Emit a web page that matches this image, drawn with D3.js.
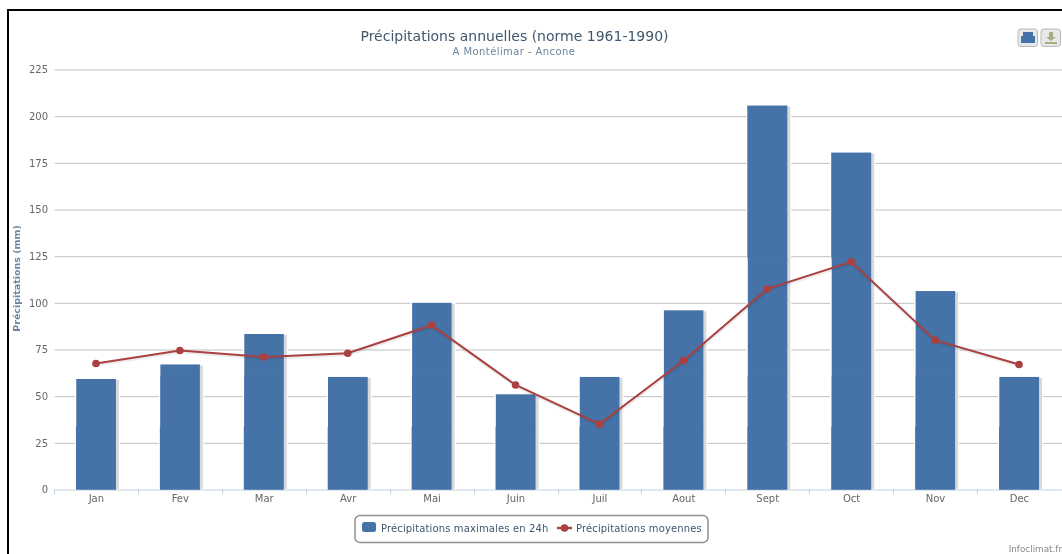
<!DOCTYPE html>
<html>
<head>
<meta charset="utf-8">
<script src="https://cdn.jsdelivr.net/npm/d3@7"></script>
<style>
  html, body { margin: 0; padding: 0; background: #fff; overflow: hidden; }
  svg { display: block; font-family: "DejaVu Sans", sans-serif; filter: blur(0.4px); }
</style>
</head>
<body>
<svg id="chart"></svg>
<script>
const MONTHS = ["Jan", "Fev", "Mar", "Avr", "Mai", "Juin", "Juil", "Aout", "Sept", "Oct", "Nov", "Dec"];
const MAX_24H = [59.2, 67, 83.3, 60.3, 100, 51, 60.3, 96, 205.7, 180.5, 106.3, 60.3];
const MEAN_PRECIP = [67.5, 74.5, 71, 73, 88, 56, 35, 69, 107.5, 122, 80, 67];
const Y_TICKS = [0, 25, 50, 75, 100, 125, 150, 175, 200, 225];
// the source screenshot was stitched: the left edge of the bars jogs at these values
const SCAN_BREAKS = [0, 33.5, 61, 124, 225];
const SCAN_SHIFT = [0, 0.3, 0.5, 0];

const WIDTH = 1062;
const HEIGHT = 554;
const PADDING = { TOP: 69.5, RIGHT: 0, BOTTOM: 64.5, LEFT: 54 };
const BAR_COLOR = "#4572A7";
const LINE_COLOR = "#AA4040";

let svg = d3.select("#chart")
  .attr("width", WIDTH)
  .attr("height", HEIGHT);

svg.append("rect")
  .attr("width", WIDTH)
  .attr("height", HEIGHT)
  .attr("fill", "#fff");

// page frame of the screenshot
svg.append("path")
  .attr("d", `M8,${HEIGHT}V10H${WIDTH}`)
  .attr("fill", "none")
  .attr("stroke", "#000")
  .attr("stroke-width", 2);

let xScale = d3.scaleBand()
  .domain(MONTHS)
  .range([PADDING.LEFT, WIDTH - 1]);

let yScale = d3.scaleLinear()
  .domain([0, 225])
  .range([HEIGHT - PADDING.BOTTOM, PADDING.TOP]);

const BAR_WIDTH = 40;
let barX = d => xScale(d) + (xScale.bandwidth() - BAR_WIDTH) / 2;

// grid and y axis
let yAxis = svg.append("g")
  .attr("transform", `translate(${PADDING.LEFT + 0.5},0)`)
  .call(d3.axisLeft(yScale).tickValues(Y_TICKS).tickSize(-(WIDTH - PADDING.LEFT)).tickPadding(6.5));
yAxis.select(".domain").remove();
yAxis.selectAll("line")
  .attr("stroke", "#C0C0C0")
  .filter(d => d === 0).remove();
yAxis.selectAll("text")
  .attr("fill", "#666")
  .style("font-size", "10px")
  .style("font-family", "'DejaVu Sans', sans-serif");

// x axis with ticks on the category boundaries
let xAxis = svg.append("g")
  .attr("transform", `translate(0.4,${HEIGHT - PADDING.BOTTOM})`)
  .call(d3.axisBottom(xScale).tickSize(0).tickPadding(5));
xAxis.select(".domain").attr("stroke", "#C0D0E0");
xAxis.selectAll("text")
  .attr("fill", "#666")
  .style("font-size", "10px")
  .style("font-family", "'DejaVu Sans', sans-serif");
svg.append("g")
  .selectAll("line")
  .data(MONTHS)
  .enter()
  .append("line")
    .attr("x1", d => Math.round(xScale(d)) + 0.5)
    .attr("x2", d => Math.round(xScale(d)) + 0.5)
    .attr("y1", HEIGHT - PADDING.BOTTOM)
    .attr("y2", HEIGHT - PADDING.BOTTOM + 5)
    .attr("stroke", "#C0D0E0");

// bars with their drop shadow
let bars = svg.append("g");
bars.selectAll("rect.halo")
  .data(MONTHS)
  .enter()
  .append("rect")
    .attr("class", "halo")
    .attr("x", d => barX(d) - 1)
    .attr("y", (d, i) => yScale(MAX_24H[i]) - 1)
    .attr("width", BAR_WIDTH + 5)
    .attr("height", (d, i) => yScale(0) - yScale(MAX_24H[i]) + 1)
    .attr("fill", "#fff");
bars.selectAll("rect.shadow")
  .data(MONTHS)
  .enter()
  .append("rect")
    .attr("class", "shadow")
    .attr("x", d => barX(d) + 3)
    .attr("y", (d, i) => yScale(MAX_24H[i]) + 1)
    .attr("width", BAR_WIDTH)
    .attr("height", (d, i) => yScale(0) - yScale(MAX_24H[i]) - 1)
    .attr("fill", "#D6D9DE");

// one rect per stitched band of the bar
let barSegments = (d, i) => SCAN_SHIFT
  .map((shift, s) => ({ month: d, shift: shift, low: SCAN_BREAKS[s], high: Math.min(SCAN_BREAKS[s + 1], MAX_24H[i]) }))
  .filter(seg => seg.high > seg.low);

bars.selectAll("g.bar")
  .data(MONTHS)
  .enter()
  .append("g")
    .attr("class", "bar")
  .selectAll("rect")
  .data(barSegments)
  .enter()
  .append("rect")
    .attr("x", seg => barX(seg.month) + seg.shift)
    .attr("y", seg => yScale(seg.high))
    .attr("width", seg => BAR_WIDTH - seg.shift)
    .attr("height", seg => yScale(seg.low) - yScale(seg.high) + 0.3)
    .attr("fill", BAR_COLOR);

// mean precipitation line
let line = d3.line()
  .x(d => xScale(d) + xScale.bandwidth() / 2)
  .y((d, i) => yScale(MEAN_PRECIP[i]));

svg.append("path")
  .datum(MONTHS)
  .attr("d", line)
  .attr("fill", "none")
  .attr("stroke", "#000")
  .attr("stroke-opacity", 0.07)
  .attr("stroke-width", 4)
  .attr("transform", "translate(0.5,1)");
svg.append("path")
  .datum(MONTHS)
  .attr("d", line)
  .attr("fill", "none")
  .attr("stroke", LINE_COLOR)
  .attr("stroke-width", 2);
svg.append("g")
  .selectAll("circle")
  .data(MONTHS)
  .enter()
  .append("circle")
    .attr("r", 3.8)
    .attr("cx", d => xScale(d) + xScale.bandwidth() / 2)
    .attr("cy", (d, i) => yScale(MEAN_PRECIP[i]))
    .attr("fill", LINE_COLOR);

// titles
svg.append("text")
  .attr("x", 514.5)
  .attr("y", 41)
  .attr("text-anchor", "middle")
  .attr("fill", "#3E576F")
  .style("font-size", "14px")
  .text("Précipitations annuelles (norme 1961-1990)");
svg.append("text")
  .attr("x", 514)
  .attr("y", 55)
  .attr("text-anchor", "middle")
  .attr("fill", "#6D869F")
  .style("font-size", "10px")
  .style("letter-spacing", "0.42px")
  .text("A Montélimar - Ancone");
svg.append("text")
  .attr("transform", "translate(20,278.5) rotate(-90)")
  .attr("text-anchor", "middle")
  .attr("fill", "#6D869F")
  .style("font-size", "9.5px")
  .style("font-weight", "bold")
  .text("Précipitations (mm)");

// legend
let legend = svg.append("g");
legend.append("rect")
  .attr("x", 355)
  .attr("y", 515.5)
  .attr("width", 353)
  .attr("height", 27)
  .attr("rx", 5)
  .attr("fill", "#fff")
  .attr("stroke", "#909090")
  .attr("stroke-width", 1.5);
legend.append("rect")
  .attr("x", 362)
  .attr("y", 522)
  .attr("width", 14)
  .attr("height", 10)
  .attr("rx", 2.5)
  .attr("fill", BAR_COLOR);
legend.append("text")
  .attr("x", 381)
  .attr("y", 532)
  .attr("fill", "#3E576F")
  .style("font-size", "10px")
  .style("letter-spacing", "0.13px")
  .text("Précipitations maximales en 24h");
legend.append("line")
  .attr("x1", 557)
  .attr("x2", 572)
  .attr("y1", 528)
  .attr("y2", 528)
  .attr("stroke", LINE_COLOR)
  .attr("stroke-width", 2.4);
legend.append("circle")
  .attr("cx", 564.5)
  .attr("cy", 528)
  .attr("r", 3.8)
  .attr("fill", LINE_COLOR);
legend.append("text")
  .attr("x", 576)
  .attr("y", 532)
  .attr("fill", "#3E576F")
  .style("font-size", "10px")
  .style("letter-spacing", "0.13px")
  .text("Précipitations moyennes");

// credit
svg.append("text")
  .attr("x", WIDTH)
  .attr("y", 552)
  .attr("text-anchor", "end")
  .attr("fill", "#85898E")
  .style("font-size", "8.8px")
  .text("Infoclimat.fr");

// export buttons
let buttons = svg.append("g");
[1018, 1041].forEach(function(x) {
  buttons.append("rect")
    .attr("x", x)
    .attr("y", 29)
    .attr("width", 19.5)
    .attr("height", 17.5)
    .attr("rx", 3)
    .attr("fill", "#E8E8E8")
    .attr("stroke", "#B8B8B8");
});
buttons.append("path")
  .attr("d", "M1023,32h10v4h2v7h-14v-7h2z")
  .attr("fill", BAR_COLOR);
buttons.append("path")
  .attr("d", "M1049,32h4v5h3l-5,4l-5,-4h3zM1045,42h12v2h-12z")
  .attr("fill", "#A4B084");
</script>
</body>
</html>
